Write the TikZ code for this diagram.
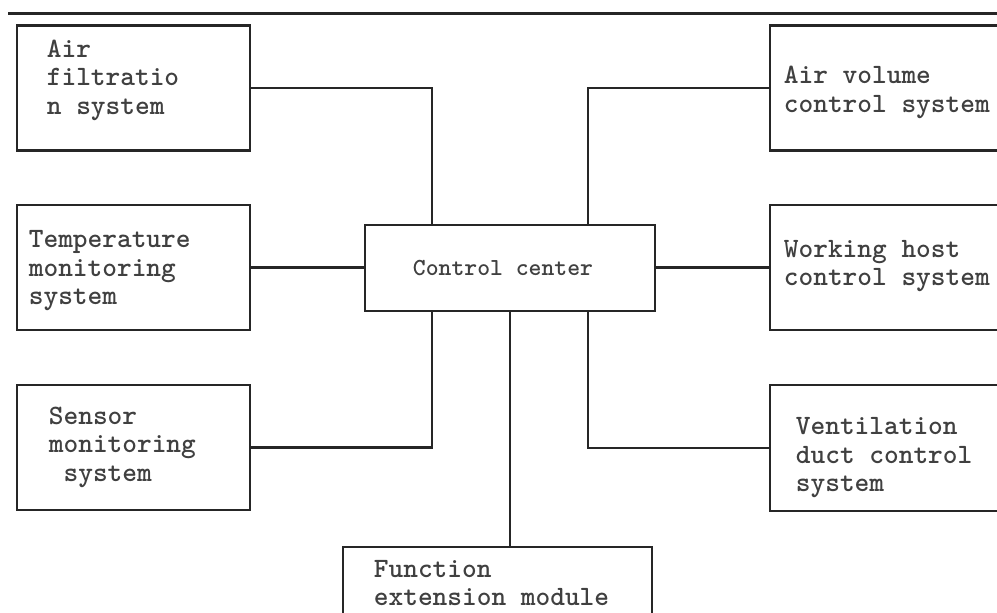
\documentclass[tikz,border=0pt]{standalone}
\usetikzlibrary{positioning}
\tikzstyle{sysbox} = [rectangle, draw=black!85, line width=2.6pt,
minimum width=233pt, minimum height=125pt, inner sep=0pt]
\tikzstyle{systext} = [align=left, inner sep=0pt, anchor=west, text=black!75,
font=\ttfamily\bfseries\fontsize{28}{28.5}\selectfont]
\tikzstyle{wire} = [draw=black!85, line width=2.2pt]
\tikzset{rulebar/.style={draw=black!85, line width=3pt}}

\begin{document}
\begin{tikzpicture}[x=1pt,y=1pt]
                \useasboundingbox (0,0) rectangle (997,613);
                \clip (0,0) rectangle (997,613);
                \coordinate (rl) at (8,599); %
                \coordinate (rr) at (997,599); %
                \draw[rulebar] (rl) -- (rr);

                % left column
                \node[sysbox] (airfilt) at (133.5,525) {} ; %
                \node[sysbox] (temp) at (133.5,345.5) {} ; %
                \node[sysbox] (sensor) at (133.5,165.5) {} ; %

                % right column, cut by the page edge
                \node[sysbox, minimum width=240pt] (airvol) at (890,525) {} ; %
                \node[sysbox, minimum width=240pt] (workhost) at (890,345.5) {} ; %
                \node[sysbox, minimum width=240pt, minimum height=126pt] (ventduct) at (890,165) {} ; %

                \node[sysbox, minimum width=290pt, minimum height=86pt, text=black!75,
                      font=\ttfamily\bfseries\fontsize{24.5}{24.5}\selectfont] (ctrl) at (510,345) {\raisebox{-4pt}{Control center}\hspace*{14pt}} ; %
                \node[sysbox, minimum width=309pt, minimum height=83pt] (funcext) at (497.5,24.5) {} ; %

                % texts
                \node[systext] (tairfilt) at ([xshift=31pt,yshift=8pt]airfilt.west) {Air\\filtratio\\n system} ; %
                \node[systext] (ttemp) at ([xshift=13pt,yshift=-3.5pt]temp.west) {Temperature\\monitoring\\system} ; %
                \node[systext] (tsensor) at ([xshift=33pt,yshift=0.5pt]sensor.west) {Sensor\\monitoring\\\ system} ; %
                \node[systext] (tairvol) at ([xshift=15pt,yshift=-4.5pt]airvol.west) {Air volume\\control system} ; %
                \node[systext] (tworkhost) at ([xshift=15pt,yshift=1.5pt]workhost.west) {Working host\\control system} ; %
                \node[systext] (tventduct) at ([xshift=27pt,yshift=-10pt]ventduct.west) {Ventilation\\duct control\\system} ; %
                \node[systext] (tfuncext) at ([xshift=32pt,yshift=5.5pt]funcext.west) {Function\\extension module} ; %

                % connectors
                \path[wire] (airfilt.east) -| ([xshift=-78pt]ctrl.north);
                \path[wire] (airvol.west) -| ([xshift=78pt]ctrl.north);
                \path[wire] (temp.east) -- (temp.east -| ctrl.west);
                \path[wire] (workhost.west) -- (workhost.west -| ctrl.east);
                \path[wire] (sensor.east) -| ([xshift=-78pt]ctrl.south);
                \path[wire] (ventduct.west) -| ([xshift=78pt]ctrl.south);
                \path[wire] (ctrl.south) -- (ctrl.south |- funcext.north);
\end{tikzpicture}
\end{document}
